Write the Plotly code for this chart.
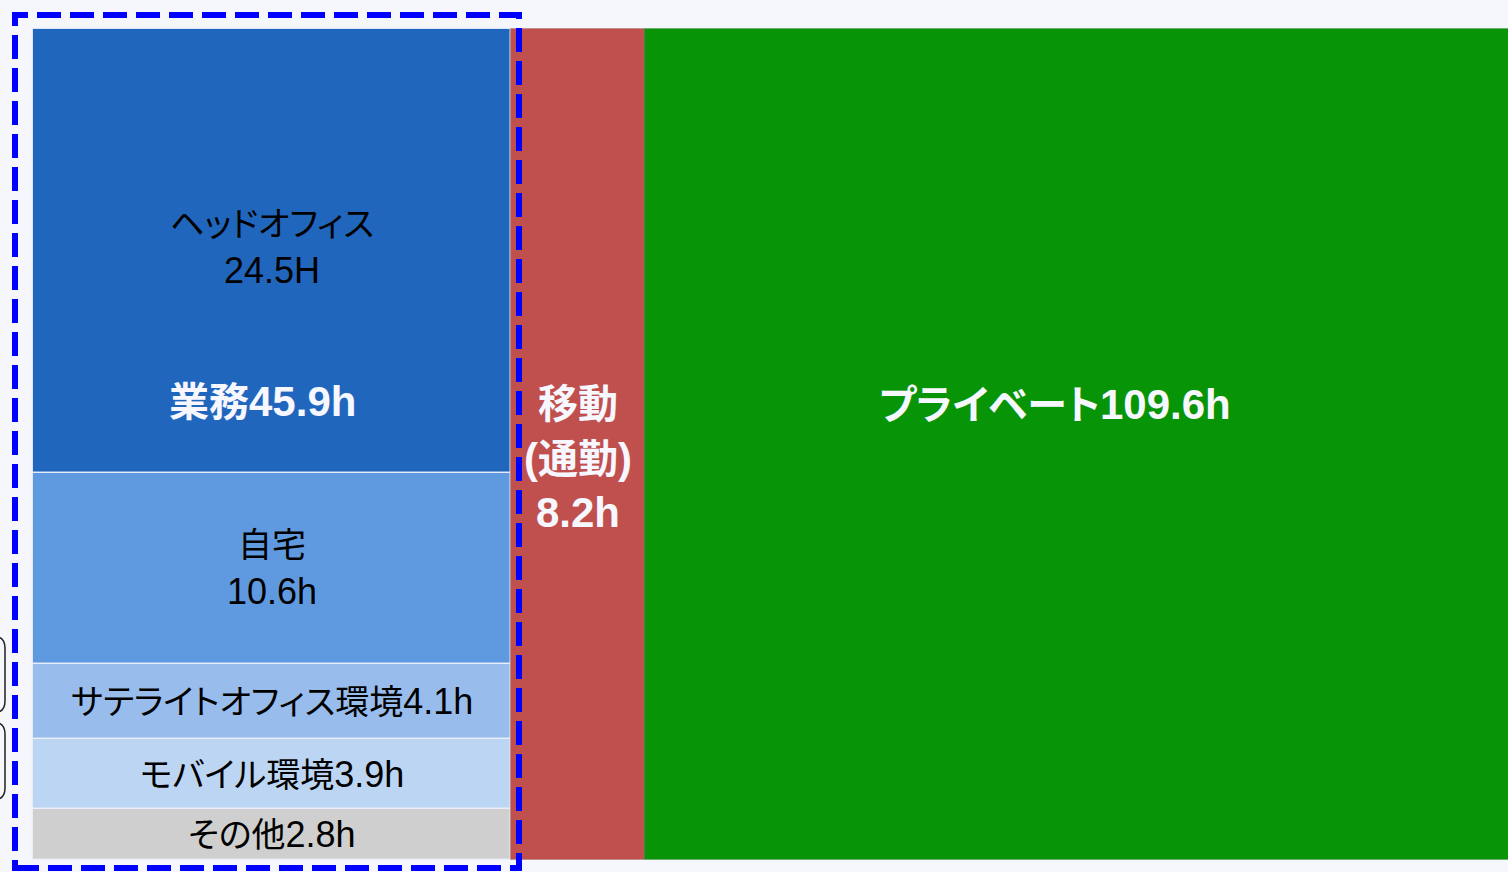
import plotly.graph_objects as go

# ---------------- data ----------------
BUSINESS_SEGMENTS = ["ヘッドオフィス", "自宅", "サテライトオフィス環境", "モバイル環境", "その他"]
BUSINESS_HOURS = [24.5, 10.6, 4.1, 3.9, 2.8]
BUSINESS_UNITS = ["H", "h", "h", "h", "h"]
BUSINESS_LINEBREAK = [True, True, False, False, False]

COLUMN_NAMES = ["業務", "移動<br>(通勤)<br>", "プライベート"]
COLUMN_HOURS = [45.9, 8.2, 109.6]

# ---------------- style / layout ----------------
W, H = 1508, 872
BG = "#f6f7fd"
SEG_COLORS = ["#2166bd", "#5f9ae0", "#98bcec", "#bcd5f2", "#cfcfcf"]
COL_COLORS = [None, "#c0504d", "#079507"]
# horizontal extent of the three columns (drawing layout, pixels)
COLUMN_EDGES = [33, 511, 645, 1540]
PLOT_TOP_PX, PLOT_BOTTOM_PX = 29, 860

FONT = "Liberation Sans, Arial, Noto Sans CJK JP, sans-serif"
CJK_SIZE, LATIN_SIZE = 34, 36
CJK_BOLD, LATIN_BOLD = 40, 42


def mixed(text, cjk, latin):
    """wrap runs of ASCII / non-ASCII characters with separate font sizes"""
    lines = []
    for part in text.split("<br>"):
        out, run, run_ascii = [], "", None
        for ch in part:
            a = ch.isascii()
            if run_ascii is None or a == run_ascii:
                run += ch
            else:
                out.append((run, run_ascii))
                run = ch
            run_ascii = a
        if run:
            out.append((run, run_ascii))
        lines.append("".join(
            (f'<span style="font-size:{latin}px">{r}</span>' if a else
             f'<span style="font-size:{cjk}px;font-feature-settings:\'palt\'">{r}</span>')
            for r, a in out))
    return "<br>".join(lines)


total_business = sum(BUSINESS_HOURS)
px_per_h = (PLOT_BOTTOM_PX - PLOT_TOP_PX) / total_business
y_min = -(H - PLOT_BOTTOM_PX) / px_per_h
y_max = total_business + PLOT_TOP_PX / px_per_h

centers = [(COLUMN_EDGES[i] + COLUMN_EDGES[i + 1]) / 2 for i in range(3)]
widths = [COLUMN_EDGES[i + 1] - COLUMN_EDGES[i] for i in range(3)]

fig = go.Figure()
annotations = []

# stacked business segments (bottom = last item)
base = 0.0
bases = {}
for i in reversed(range(len(BUSINESS_SEGMENTS))):
    v = BUSINESS_HOURS[i]
    bases[i] = base
    fig.add_trace(go.Bar(
        x=[centers[0]], y=[v], base=[base], width=[widths[0]],
        marker=dict(color=SEG_COLORS[i], line=dict(color="rgba(235,240,250,0.9)", width=1.5)),
        name=BUSINESS_SEGMENTS[i], hoverinfo="name+y", showlegend=False,
    ))
    sep = "<br>" if BUSINESS_LINEBREAK[i] else ""
    label = mixed(f"{BUSINESS_SEGMENTS[i]}{sep}{v}{BUSINESS_UNITS[i]}", CJK_SIZE, LATIN_SIZE)
    annotations.append(dict(
        x=centers[0], y=base + v / 2, xref="x", yref="y", text=label, showarrow=False,
        font=dict(family=FONT, size=LATIN_SIZE, color="black"), align="center",
        yshift=3 if i == 0 else 0,
    ))
    base += v

# business total label inside the head-office block
annotations.append(dict(
    x=centers[0] - 10, y=bases[0] + BUSINESS_HOURS[0] * 0.16, xref="x", yref="y",
    text="<b>" + mixed(f"{COLUMN_NAMES[0]}{COLUMN_HOURS[0]}h", CJK_BOLD, LATIN_BOLD) + "</b>",
    showarrow=False,
    font=dict(family=FONT, size=LATIN_BOLD, color="#f7f7ff"),
))

# commute and private columns (full height)
shifts = [0, -14, 40]
for j in (1, 2):
    fig.add_trace(go.Bar(
        x=[centers[j]], y=[total_business], base=[0], width=[widths[j]],
        marker=dict(color=COL_COLORS[j], line=dict(color="rgba(0,0,0,0.12)", width=1)),
        name=COLUMN_NAMES[j].replace("<br>", ""), hoverinfo="name", showlegend=False,
    ))
    annotations.append(dict(
        x=centers[j] if j == 1 else 1055, y=total_business / 2, xref="x", yref="y",
        text="<b>" + mixed(f"{COLUMN_NAMES[j]}{COLUMN_HOURS[j]}h", CJK_BOLD, LATIN_BOLD) + "</b>",
        showarrow=False,
        font=dict(family=FONT, size=LATIN_BOLD, color="#f7f7ff"), align="center",
        yshift=shifts[j],
    ))


def px(x):
    return x / W


def py(y):
    return 1 - y / H


shapes = []
# blue dashed frame around the business column
shapes.append(dict(
    type="rect", xref="paper", yref="paper",
    x0=px(15), x1=px(519), y0=py(868), y1=py(15),
    line=dict(color="#0000ff", width=6, dash="24px,9px"), fillcolor="rgba(0,0,0,0)",
    layer="above",
))


# partially visible rounded callout boxes at the left edge
def rounded_right(top, bottom, right=5, r=12):
    return (f"M {px(-30)},{py(top)} L {px(right - r)},{py(top)} "
            f"Q {px(right)},{py(top)} {px(right)},{py(top + r)} "
            f"L {px(right)},{py(bottom - r)} "
            f"Q {px(right)},{py(bottom)} {px(right - r)},{py(bottom)} "
            f"L {px(-30)},{py(bottom)}")


for top, bottom in [(636, 713), (722, 800)]:
    shapes.append(dict(type="path", xref="paper", yref="paper",
                       path=rounded_right(top, bottom),
                       line=dict(color="#222222", width=1.5)))

fig.update_layout(
    width=W, height=H, margin=dict(l=0, r=0, t=0, b=0),
    paper_bgcolor=BG, plot_bgcolor=BG,
    barmode="overlay", bargap=0,
    xaxis=dict(range=[0, W], visible=False, fixedrange=True),
    yaxis=dict(range=[y_min, y_max], visible=False, fixedrange=True),
    annotations=annotations, shapes=shapes,
    font=dict(family=FONT),
)

fig.write_html(
    "out.html",
    config={"displayModeBar": False},
    post_script="document.body.style.margin='0';document.body.style.overflow='hidden';"
                "document.body.style.background='" + BG + "';",
)
